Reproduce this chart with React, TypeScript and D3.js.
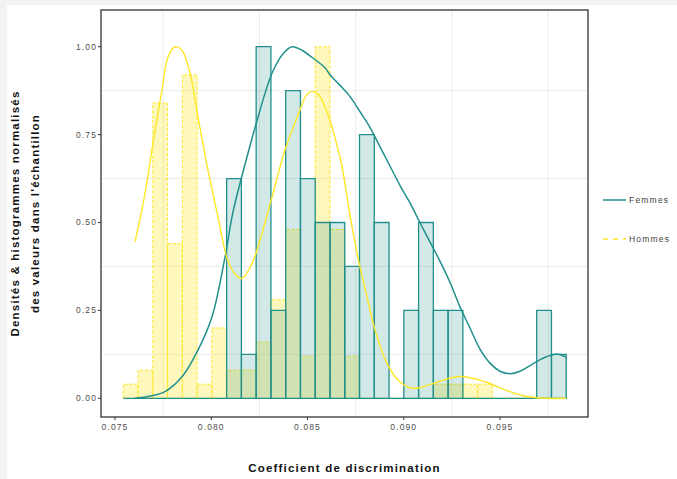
import React from "react";
import * as d3 from "d3";

// Histogram bins (shared by both groups), normalised so each group's tallest bin = 1
const binStart = 0.07543;
const binWidth = 0.000767;
const femmesHist = [
  0, 0, 0, 0, 0, 0, 0, 0.625, 0.125, 1, 0.25, 0.875, 0.625, 0.5, 0.5, 0.375,
  0.75, 0.5, 0, 0.25, 0.5, 0.25, 0.25, 0, 0, 0, 0, 0, 0.25, 0.125,
];
const hommesHist = [
  0.04, 0.08, 0.84, 0.44, 0.92, 0.04, 0.2, 0.08, 0.08, 0.16, 0.28, 0.48, 0.12,
  1, 0.48, 0.12, 0, 0, 0, 0, 0, 0.04, 0.04, 0.04, 0.04, 0, 0, 0, 0, 0,
];

// Normalised kernel densities
const femmesDensity: [number, number][] = [
  [0.07604, 0], [0.07671, 0.005], [0.0776, 0.019], [0.07848, 0.061],
  [0.07931, 0.137], [0.08004, 0.232], [0.08071, 0.4], [0.08113, 0.53],
  [0.08186, 0.687], [0.08238, 0.79], [0.08316, 0.925], [0.08373, 0.98],
  [0.0842, 1.0], [0.08471, 0.99], [0.08523, 0.97], [0.08591, 0.94],
  [0.08617, 0.92], [0.08669, 0.89], [0.08721, 0.858], [0.08773, 0.815],
  [0.08825, 0.77], [0.08877, 0.715], [0.08929, 0.66], [0.08981, 0.605],
  [0.09033, 0.555], [0.09084, 0.5], [0.09136, 0.445], [0.09188, 0.39],
  [0.0924, 0.33], [0.09292, 0.26], [0.09344, 0.2], [0.09396, 0.14],
  [0.09448, 0.1], [0.095, 0.077], [0.09552, 0.07], [0.09604, 0.077],
  [0.09656, 0.093], [0.09708, 0.11], [0.0976, 0.122], [0.09801, 0.125],
  [0.09843, 0.117],
];
const hommesDensity: [number, number][] = [
  [0.07604, 0.445], [0.07656, 0.583], [0.07697, 0.725], [0.07744, 0.877],
  [0.07775, 0.97], [0.07812, 1.0], [0.07848, 0.99], [0.0789, 0.924],
  [0.07931, 0.8], [0.07983, 0.649], [0.08035, 0.516], [0.08087, 0.39],
  [0.08129, 0.35], [0.0816, 0.341], [0.08212, 0.384], [0.08243, 0.431],
  [0.08316, 0.573], [0.08383, 0.706], [0.08461, 0.82], [0.08492, 0.86],
  [0.08523, 0.873], [0.08555, 0.865], [0.08586, 0.835], [0.08617, 0.79],
  [0.08648, 0.73], [0.08679, 0.66], [0.08721, 0.52], [0.08762, 0.4],
  [0.08804, 0.3], [0.08851, 0.194], [0.08908, 0.105], [0.0897, 0.052],
  [0.09033, 0.03], [0.09084, 0.03], [0.09168, 0.045], [0.09292, 0.062],
  [0.09422, 0.047], [0.09526, 0.024], [0.0964, 0.005], [0.09734, 0],
  [0.09843, 0],
];

const xTicks = [0.075, 0.08, 0.085, 0.09, 0.095];
const xGrid = [0.0775, 0.0825, 0.0875, 0.0925, 0.0975];
const yTicks = [0, 0.25, 0.5, 0.75, 1];
const yGrid = [0.125, 0.375, 0.625, 0.875];

const xTitle = "Coefficient de discrimination";
const yTitle = ["Densités & histogrammes normalisés", "des valeurs dans l'échantillon"];
const legendLabels = ["Femmes", "Hommes"];

const TEAL = "#21908C";
const YELLOW = "#FDE725";
const FONT = "'Liberation Sans', Arial, Helvetica, sans-serif";

export default function App() {
  const W = 677;
  const H = 479;
  const panel = { left: 101, right: 588, top: 10, bottom: 417 };

  const x = d3.scaleLinear().domain([0.074273, 0.099571]).range([panel.left, panel.right]);
  const y = d3.scaleLinear().domain([-0.0532, 1.1044]).range([panel.bottom, panel.top]);

  const bins = femmesHist.map((_, i) => ({
    x0: binStart + i * binWidth,
    x1: binStart + (i + 1) * binWidth,
  }));

  const line = d3
    .line<[number, number]>()
    .x((d) => x(d[0]))
    .y((d) => y(d[1]))
    .curve(d3.curveCatmullRom.alpha(0.5));

  // bar outline as a path so that empty bins still show their baseline stroke
  const barPath = (h: number, i: number) => {
    const p = d3.path();
    const x0 = x(bins[i].x0);
    const x1 = x(bins[i].x1);
    p.moveTo(x0, y(0));
    p.lineTo(x0, y(h));
    p.lineTo(x1, y(h));
    p.lineTo(x1, y(0));
    p.closePath();
    return p.toString();
  };

  return (
    <svg
      width={W}
      height={H}
      style={{ position: "absolute", left: 0, top: 0, fontFamily: FONT }}
    >
      <rect x={0} y={0} width={W} height={H} fill="#f3f3f3" />
      <rect x={7} y={5} width={W - 7} height={H - 5} fill="#ffffff" />

      {/* grid */}
      <g stroke="#ebebeb" strokeWidth={1}>
        {xGrid.map((v) => (
          <line key={"gx" + v} x1={x(v)} x2={x(v)} y1={panel.top} y2={panel.bottom} />
        ))}
        {yGrid.map((v) => (
          <line key={"gy" + v} x1={panel.left} x2={panel.right} y1={y(v)} y2={y(v)} />
        ))}
      </g>

      {/* Hommes histogram */}
      <g>
        {hommesHist.map((h, i) => (
          <path
            key={"h" + i}
            d={barPath(h, i)}
            fill={YELLOW}
            fillOpacity={0.3}
            stroke={YELLOW}
            strokeWidth={1}
            strokeDasharray="3,2"
          />
        ))}
      </g>

      {/* Femmes histogram */}
      <g>
        {femmesHist.map((h, i) => (
          <path
            key={"f" + i}
            d={barPath(h, i)}
            fill={TEAL}
            fillOpacity={0.2}
            stroke={TEAL}
            strokeWidth={1.3}
          />
        ))}
      </g>

      {/* densities */}
      <path d={line(femmesDensity) || ""} fill="none" stroke={TEAL} strokeWidth={1.5} />
      <path d={line(hommesDensity) || ""} fill="none" stroke={YELLOW} strokeWidth={1.4} />

      {/* panel border */}
      <rect
        x={panel.left}
        y={panel.top}
        width={panel.right - panel.left}
        height={panel.bottom - panel.top}
        fill="none"
        stroke="#333333"
        strokeWidth={1.3}
      />

      {/* x axis */}
      <g>
        {xTicks.map((v) => (
          <g key={"xt" + v}>
            <line x1={x(v)} x2={x(v)} y1={panel.bottom} y2={panel.bottom + 3} stroke="#333333" strokeWidth={1} />
            <text
              x={x(v)}
              y={panel.bottom + 13}
              textAnchor="middle"
              fontSize={8.5}
              fill="#4d4d4d"
              letterSpacing={1.1}
            >
              {d3.format(".3f")(v)}
            </text>
          </g>
        ))}
      </g>

      {/* y axis */}
      <g>
        {yTicks.map((v) => (
          <g key={"yt" + v}>
            <line x1={panel.left - 3} x2={panel.left} y1={y(v)} y2={y(v)} stroke="#333333" strokeWidth={1} />
            <text
              x={panel.left - 4}
              y={y(v)}
              dy="0.35em"
              textAnchor="end"
              fontSize={8.5}
              fill="#4d4d4d"
              letterSpacing={1.1}
            >
              {d3.format(".2f")(v)}
            </text>
          </g>
        ))}
      </g>

      {/* axis titles */}
      <text
        x={(panel.left + panel.right) / 2}
        y={472}
        textAnchor="middle"
        fontSize={11.5}
        fontWeight="bold"
        fill="#111111"
        letterSpacing={1.2}
      >
        {xTitle}
      </text>
      {yTitle.map((t, i) => (
        <text
          key={"yl" + i}
          transform={`translate(${19 + i * 20},${(panel.top + panel.bottom) / 2}) rotate(-90)`}
          textAnchor="middle"
          fontSize={11.5}
          fontWeight="bold"
          fill="#111111"
          letterSpacing={1.2}
        >
          {t}
        </text>
      ))}

      {/* legend */}
      {legendLabels.map((lab, i) => {
        const ly = 200 + i * 39;
        return (
          <g key={"lg" + lab}>
            <line
              x1={603}
              x2={626}
              y1={ly}
              y2={ly}
              stroke={i === 0 ? TEAL : YELLOW}
              strokeWidth={1.5}
              strokeDasharray={i === 0 ? undefined : "5,5"}
            />
            <text x={629} y={ly} dy="0.35em" fontSize={8.5} fill="#444444" letterSpacing={1.2}>
              {lab}
            </text>
          </g>
        );
      })}
    </svg>
  );
}
